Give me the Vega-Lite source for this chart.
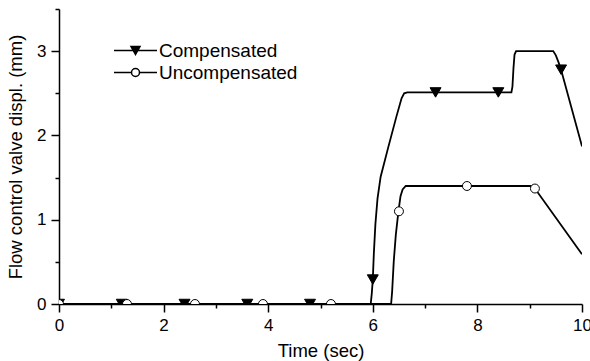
{
  "$schema": "https://vega.github.io/schema/vega-lite/v6.json",
  "width": 523,
  "height": 295,
  "autosize": "none",
  "padding": {"left": 59, "top": 9, "right": 8, "bottom": 57},
  "background": "white",
  "config": {
    "view": {"stroke": null},
    "font": "Liberation Sans",
    "axis": {
      "domainColor": "black",
      "domainWidth": 1.5,
      "tickColor": "black",
      "tickWidth": 1.5,
      "labelColor": "black",
      "titleColor": "black",
      "labelFont": "Liberation Sans",
      "titleFont": "Liberation Sans",
      "labelFontSize": 17,
      "titleFontSize": 18.5,
      "titleFontWeight": "normal",
      "grid": false
    },
    "legend": {
      "title": null,
      "orient": "none",
      "legendX": 67,
      "legendY": 32,
      "padding": 0,
      "labelFontSize": 19,
      "labelColor": "black",
      "labelFont": "Liberation Sans",
      "labelOffset": 14,
      "rowPadding": 2,
      "symbolStrokeColor": "black",
      "symbolStrokeWidth": 1.5,
      "symbolOpacity": 1
    }
  },
  "datasets": {
    "curves": [
      {"s": "Compensated", "t": 0, "v": 0},
      {"s": "Compensated", "t": 5.96, "v": 0},
      {"s": "Compensated", "t": 5.98, "v": 0.12},
      {"s": "Compensated", "t": 6.0, "v": 0.29},
      {"s": "Compensated", "t": 6.02, "v": 0.6},
      {"s": "Compensated", "t": 6.05, "v": 0.95},
      {"s": "Compensated", "t": 6.09, "v": 1.25},
      {"s": "Compensated", "t": 6.15, "v": 1.51},
      {"s": "Compensated", "t": 6.3, "v": 1.87},
      {"s": "Compensated", "t": 6.45, "v": 2.22},
      {"s": "Compensated", "t": 6.55, "v": 2.44},
      {"s": "Compensated", "t": 6.6, "v": 2.5},
      {"s": "Compensated", "t": 6.66, "v": 2.51},
      {"s": "Compensated", "t": 8.65, "v": 2.51},
      {"s": "Compensated", "t": 8.67, "v": 2.58},
      {"s": "Compensated", "t": 8.69, "v": 2.8},
      {"s": "Compensated", "t": 8.71, "v": 2.96},
      {"s": "Compensated", "t": 8.74, "v": 3.0},
      {"s": "Compensated", "t": 9.45, "v": 3.0},
      {"s": "Compensated", "t": 9.5, "v": 2.95},
      {"s": "Compensated", "t": 9.55, "v": 2.87},
      {"s": "Compensated", "t": 9.6, "v": 2.78},
      {"s": "Compensated", "t": 10, "v": 1.87},
      {"s": "Uncompensated", "t": 0, "v": 0},
      {"s": "Uncompensated", "t": 6.35, "v": 0},
      {"s": "Uncompensated", "t": 6.37, "v": 0.15},
      {"s": "Uncompensated", "t": 6.4, "v": 0.5},
      {"s": "Uncompensated", "t": 6.44, "v": 0.82},
      {"s": "Uncompensated", "t": 6.49, "v": 1.1},
      {"s": "Uncompensated", "t": 6.53, "v": 1.28},
      {"s": "Uncompensated", "t": 6.57, "v": 1.36},
      {"s": "Uncompensated", "t": 6.63, "v": 1.4},
      {"s": "Uncompensated", "t": 9.05, "v": 1.4},
      {"s": "Uncompensated", "t": 9.1, "v": 1.37},
      {"s": "Uncompensated", "t": 10, "v": 0.59}
    ],
    "markers": [
      {"s": "Compensated", "t": 0, "v": 0},
      {"s": "Compensated", "t": 1.2, "v": 0},
      {"s": "Compensated", "t": 2.4, "v": 0},
      {"s": "Compensated", "t": 3.6, "v": 0},
      {"s": "Compensated", "t": 4.8, "v": 0},
      {"s": "Compensated", "t": 6.0, "v": 0.29},
      {"s": "Compensated", "t": 7.2, "v": 2.51},
      {"s": "Compensated", "t": 8.4, "v": 2.51},
      {"s": "Compensated", "t": 9.6, "v": 2.78},
      {"s": "Uncompensated", "t": 0, "v": 0},
      {"s": "Uncompensated", "t": 1.3, "v": 0},
      {"s": "Uncompensated", "t": 2.6, "v": 0},
      {"s": "Uncompensated", "t": 3.9, "v": 0},
      {"s": "Uncompensated", "t": 5.2, "v": 0},
      {"s": "Uncompensated", "t": 6.5, "v": 1.1},
      {"s": "Uncompensated", "t": 7.8, "v": 1.4},
      {"s": "Uncompensated", "t": 9.1, "v": 1.37}
    ]
  },
  "resolve": {"axis": {"x": "independent", "y": "independent"}},
  "layer": [
    {
      "data": {"name": "curves"},
      "mark": {"type": "line", "color": "black", "strokeWidth": 1.8, "clip": true},
      "encoding": {
        "x": {
          "field": "t", "type": "quantitative",
          "scale": {"domain": [0, 10], "nice": false},
          "axis": {"orient": "bottom", "values": [0, 2, 4, 6, 8, 10], "tickSize": 8, "labelPadding": 5, "title": "Time (sec)", "titlePadding": 8, "labelFlush": false}
        },
        "y": {
          "field": "v", "type": "quantitative",
          "scale": {"domain": [0, 3.5], "nice": false},
          "axis": {"orient": "left", "values": [0, 1, 2, 3], "tickSize": 8, "labelPadding": 5, "title": "Flow control valve displ. (mm)", "titlePadding": 11, "labelFlush": false}
        },
        "detail": {"field": "s"}
      }
    },
    {
      "data": {"name": "markers"},
      "mark": {"type": "point", "stroke": "black", "strokeWidth": 1, "opacity": 1, "clip": true},
      "encoding": {
        "x": {
          "field": "t", "type": "quantitative",
          "axis": {"orient": "bottom", "values": [1, 3, 5, 7, 9], "tickSize": 4, "labels": false, "domain": false, "title": null}
        },
        "y": {
          "field": "v", "type": "quantitative",
          "axis": {"orient": "left", "values": [0.5, 1.5, 2.5, 3.5], "tickSize": 4, "labels": false, "domain": false, "title": null}
        },
        "shape": {
          "condition": {"test": "datum.s === 'Compensated'", "value": "triangle-down"},
          "value": "circle"
        },
        "fill": {
          "condition": {"test": "datum.s === 'Compensated'", "value": "black"},
          "value": "white"
        },
        "size": {
          "condition": {"test": "datum.s === 'Compensated'", "value": 120},
          "value": 80
        }
      }
    },
    {
      "data": {"name": "markers"},
      "transform": [{"filter": "datum.t > 100"}],
      "mark": {"type": "point", "filled": true, "strokeWidth": 1.5, "opacity": 1, "size": 100},
      "encoding": {
        "x": {"field": "t", "type": "quantitative", "axis": null},
        "y": {"field": "v", "type": "quantitative", "axis": null},
        "shape": {
          "field": "s", "type": "nominal",
          "scale": {"domain": ["Compensated", "Uncompensated"], "range": ["M-4.3,0H4.3M-0.9,-0.8L0.9,-0.8L0,0.8Z", "M-4.3,0H-0.8M0.8,0H4.3M-0.8,0A0.8,0.8,0,1,0,0.8,0A0.8,0.8,0,1,0,-0.8,0Z"]}
        },
        "fill": {
          "field": "s", "type": "nominal",
          "scale": {"domain": ["Compensated", "Uncompensated"], "range": ["black", "white"]}
        },
        "stroke": {
          "field": "s", "type": "nominal",
          "scale": {"domain": ["Compensated", "Uncompensated"], "range": ["black", "black"]}
        }
      }
    }
  ]
}
